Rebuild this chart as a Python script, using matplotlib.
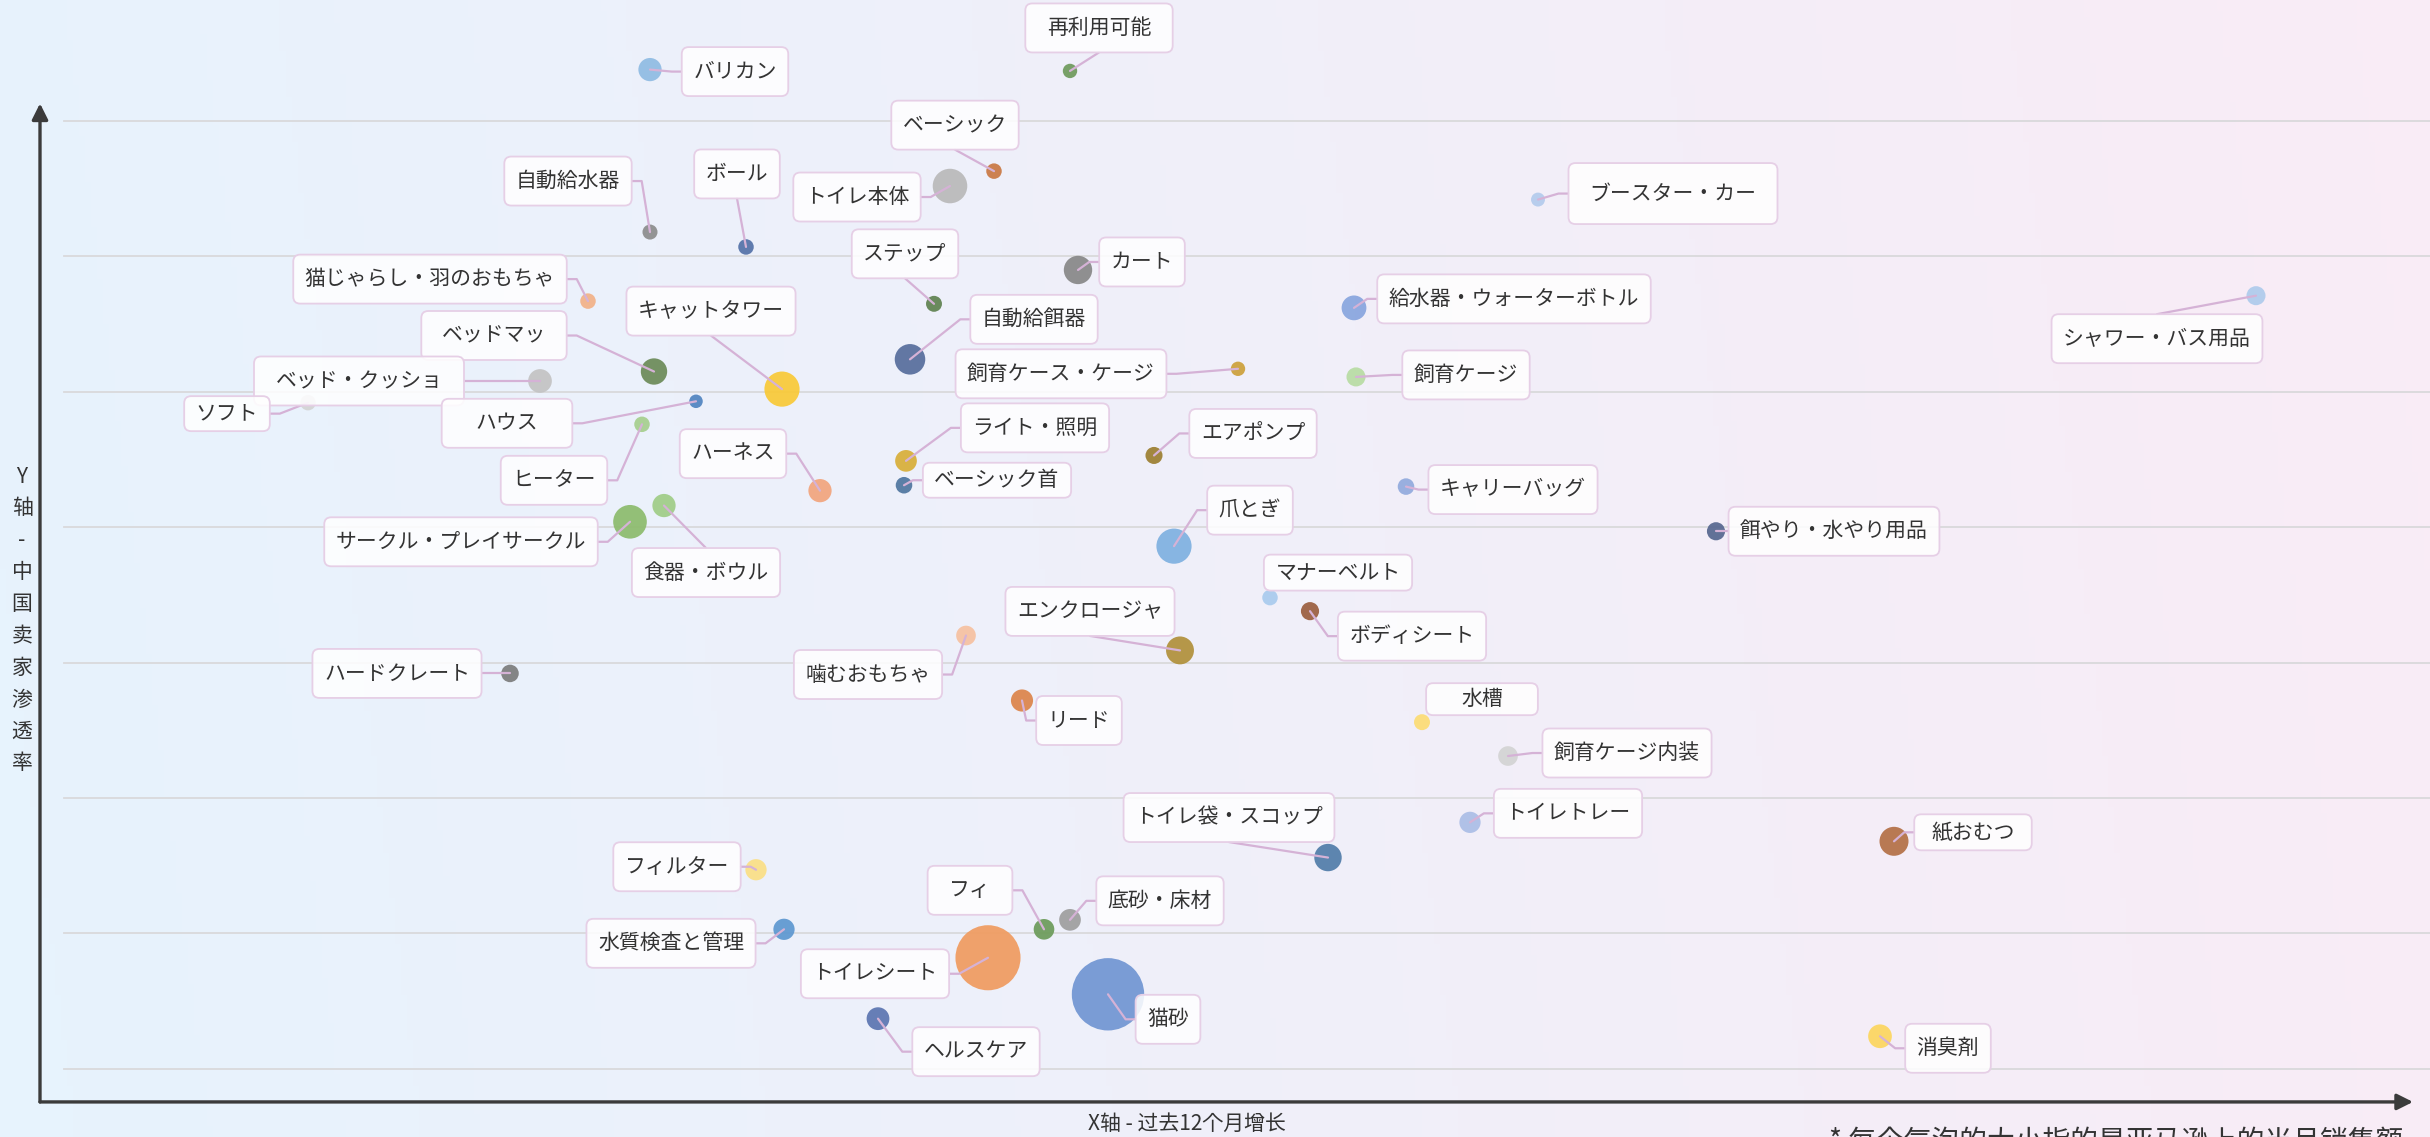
import matplotlib
matplotlib.use('Agg')
import matplotlib.pyplot as plt
import numpy as np
from matplotlib.colors import to_rgb
from matplotlib.patches import FancyBboxPatch
from matplotlib.transforms import IdentityTransform

plt.rcParams['font.family'] = ['Noto Sans CJK JP', 'DejaVu Sans']

# 品类数据：过去12个月增长、中国卖家渗透率、当月销售额
names = ['バリカン', '再利用可能', 'ベーシック', 'トイレ本体', '自動給水器', 'ボール',
         'ブースター・カー', 'カート', 'ステップ', '猫じゃらし・羽のおもちゃ',
         '給水器・ウォーターボトル', 'シャワー・バス用品', '自動給餌器', 'キャットタワー',
         'ベッドマッ', 'ベッド・クッショ', 'ソフト', '飼育ケース・ケージ', '飼育ケージ',
         'ハウス', 'ヒーター', 'ハーネス', 'ライト・照明', 'ベーシック首', 'エアポンプ',
         'キャリーバッグ', '爪とぎ', '餌やり・水やり用品', 'サークル・プレイサークル',
         '食器・ボウル', 'マナーベルト', 'ボディシート', 'エンクロージャ', '噛むおもちゃ',
         'ハードクレート', 'リード', '水槽', '飼育ケージ内装', 'トイレトレー',
         'トイレ袋・スコップ', '紙おむつ', 'フィルター', '水質検査と管理', 'フィ',
         '底砂・床材', 'トイレシート', '猫砂', 'ヘルスケア', '消臭剤']

growth = [30.5, 51.5, 47.7, 45.5, 30.5, 35.3, 74.9, 51.9, 44.7, 27.4,
          65.7, 110.8, 43.5, 37.1, 30.7, 25.0, 13.4, 59.9, 65.8, 32.8,
          30.1, 39.0, 43.3, 43.2, 55.7, 68.3, 56.7, 83.8, 29.5, 31.2,
          61.5, 63.5, 57.0, 46.3, 23.5, 49.1, 69.1, 73.4, 71.5, 64.4,
          92.7, 35.8, 37.2, 50.2, 51.5, 47.4, 53.4, 41.9, 92.0]

share = [83.8, 83.7, 76.3, 75.2, 71.8, 70.7, 74.2, 69.0, 66.5, 66.7,
         66.2, 67.1, 62.4, 60.2, 61.5, 60.8, 59.2, 61.7, 61.1, 59.3,
         57.6, 52.7, 54.9, 53.1, 55.3, 53.0, 48.6, 49.7, 50.4, 51.6,
         44.8, 43.8, 40.9, 42.0, 39.2, 37.2, 35.6, 33.1, 28.2, 25.6,
         26.8, 24.7, 20.3, 20.3, 21.0, 18.2, 15.5, 13.7, 12.4]

sales = [2250, 860, 1000, 4970, 940, 1000, 810, 3350, 1060, 1000,
         2560, 1510, 3880, 5150, 2890, 2340, 1000, 860, 1510, 760,
         1000, 2250, 1960, 1140, 1210, 1140, 5150, 1370, 4710, 2250,
         1000, 1370, 3240, 1610, 1280, 2040, 1060, 1610, 1880, 3130,
         3500, 1880, 1880, 1770, 1960, 17640, 21810, 2160, 2340]

colors = ['#8fbbe3', '#6e9a5c', '#c97843', '#b9b9b9', '#8c8c8c', '#5371a8',
          '#b3cbed', '#878787', '#5f8150', '#f2b187', '#88a5de', '#aecbec',
          '#566d9c', '#f9c936', '#6b8a57', '#c3c3c3', '#d3d3d3', '#cda03a',
          '#b8dca3', '#5084c0', '#a6cf8e', '#f2a47c', '#d8ae38', '#4f759f',
          '#9c7e30', '#92aadd', '#7eb0e0', '#56668f', '#8cbb6c', '#9fcd86',
          '#a9cbee', '#9b5e3e', '#b0903a', '#f6c1a0', '#7c7c7c', '#dc8449',
          '#fcdc74', '#d3d3d3', '#abbde6', '#507ca9', '#b36f45', '#fbdf85',
          '#5d97d0', '#6b9b59', '#9e9e9e', '#f09b5f', '#7095d2', '#5b74b0',
          '#fcd65e']

# 标签框相对气泡的偏移（像素）、引线连接的边、框的额外宽高
label_dx = [85, 29, -39, -93, -82, -9, 135, 64, -29, -158,
            160, -99, 124, -71, -160, -181, -81, -177, 110, -189,
            -88, -87, 129, 93, 99, 107, 76, 118, -169, 42,
            68, 102, -90, -98, -113, 57, 60, 119, 98, -99,
            79, -79, -113, -74, 90, -113, 60, 98, 68]
label_dy = [-2, 43, 46, -11, 51, 73, 6, 8, 50, 22,
            9, -43, 40, 78, 36, 0, -11, -5, 2, -22,
            -56, 37, 33, 5, 22, -3, 36, 0, -20, -67,
            25, -25, 39, -39, 0, -20, 23, 3, 9, 40,
            9, 3, -14, 39, 19, -16, -25, -33, -12]
label_side = ['l', 'b', 'b', 'r', 'r', 'b', 'l', 'l', 'b', 'r',
              'l', 't', 'l', 'b', 'r', 'r', 'r', 'r', 'l', 'r',
              'r', 'r', 'l', 'l', 'l', 'l', 'l', 'l', 'r', 't',
              None, 'l', 'b', 'r', 'r', 'l', None, 'l', 'l', 'b',
              'l', 'r', 'r', 'r', 'l', 'r', 'l', 'l', 'l']
extra_w = {'再利用可能': 20, 'ブースター・カー': 19, 'ベッドマッ': 18, 'ベッド・クッショ': 20,
           'ハウス': 45, '水槽': 47, 'フィ': 20, '紙おむつ': 11}
extra_h = {'ブースター・カー': 12, '水槽': -17, 'マナーベルト': -13, '紙おむつ': -13,
           'ベーシック首': -14, 'ソフト': -14}

W, H = 2430, 1137
fig = plt.figure(figsize=(W / 100, H / 100), dpi=100)
ax = fig.add_axes([0, 0, 1, 1])
ax.set_xlim(-2, 119.5)
ax.set_ylim(4.96, 88.94)
ax.axis('off')

# 背景渐变（浅蓝 -> 浅粉）
c0 = np.array(to_rgb('#e7f3fd'))
c1 = np.array(to_rgb('#f9ecf6'))
gx, gy = np.meshgrid(np.linspace(0, 1, 400), np.linspace(0, 1, 200))
t = np.clip(gx + 0.06 * (gy - 0.5), 0, 1)[..., None]
grad = c0 * (1 - t) + c1 * t
ax.imshow(grad, extent=(-2, 119.5, 4.96, 88.94), aspect='auto', zorder=0, origin='lower')

# 网格线
for gyv in range(10, 81, 10):
    ax.plot([1.2, 119.5], [gyv, gyv], color='#d9d9db', lw=1.3, zorder=1)

# 坐标轴箭头
axis_kw = dict(arrowstyle='-|>', color='#3b3b3b', lw=2.4, mutation_scale=24, shrinkA=0, shrinkB=0)
ax.annotate('', xy=(0, 81.3), xytext=(0, 7.55), arrowprops=axis_kw, zorder=2)
ax.annotate('', xy=(118.65, 7.55), xytext=(0, 7.55), arrowprops=axis_kw, zorder=2)

# 气泡
ax.scatter(growth, share, s=np.array(sales) * 0.1245, c=colors, alpha=0.92,
           linewidths=0, zorder=3)

# 标签文字
anns = []
for i, name in enumerate(names):
    a = ax.annotate(name, xy=(growth[i], share[i]), xytext=(label_dx[i], label_dy[i]),
                    textcoords='offset pixels', ha='center', va='center',
                    fontsize=15, color='#333333', zorder=6)
    anns.append(a)

fig.canvas.draw()
renderer = fig.canvas.get_renderer()
inv = ax.transData.inverted()
for i, a in enumerate(anns):
    bb = a.get_window_extent(renderer)
    cx, cy = (bb.x0 + bb.x1) / 2, (bb.y0 + bb.y1) / 2
    w = bb.width + 23 + extra_w.get(names[i], 0)
    h = 49 + extra_h.get(names[i], 0)
    x0, x1, y0, y1 = cx - w / 2, cx + w / 2, cy - h / 2, cy + h / 2
    box = FancyBboxPatch((x0, y0), w, h, boxstyle='round,pad=0,rounding_size=7',
                         fc=(1, 1, 1, 0.86), ec='#e6cfe6', lw=1.3,
                         transform=IdentityTransform(), zorder=5)
    ax.add_patch(box)

    side = label_side[i]
    if side is None:
        continue
    px, py = ax.transData.transform((growth[i], share[i]))
    if side == 'l':
        pts = [(x0, cy), (x0 - 10, cy), (px, py)]
    elif side == 'r':
        pts = [(x1, cy), (x1 + 10, cy), (px, py)]
    elif side == 't':
        pts = [(cx, y1), (px, py)]
    else:
        pts = [(cx, y0), (px, py)]
    d = inv.transform(pts)
    ax.plot(d[:, 0], d[:, 1], color='#d5b2d6', lw=1.6, zorder=4, solid_capstyle='round')

# 轴标题
fig.text(22 / W, 1 - 620 / H, 'Y\n轴\n-\n中\n国\n卖\n家\n渗\n透\n率', ha='center', va='center',
         fontsize=15, color='#333333', linespacing=1.58)
fig.text(1187 / W, 1 - 1124 / H, 'X轴 - 过去12个月增长', ha='center', va='center',
         fontsize=15, color='#333333')
fig.text(1829 / W, 1 - 1127 / H, '* 每个气泡的大小指的是亚马逊上的当月销售额', ha='left', va='top',
         fontsize=20, color='#333333')

fig.savefig('out.png', dpi=100)
